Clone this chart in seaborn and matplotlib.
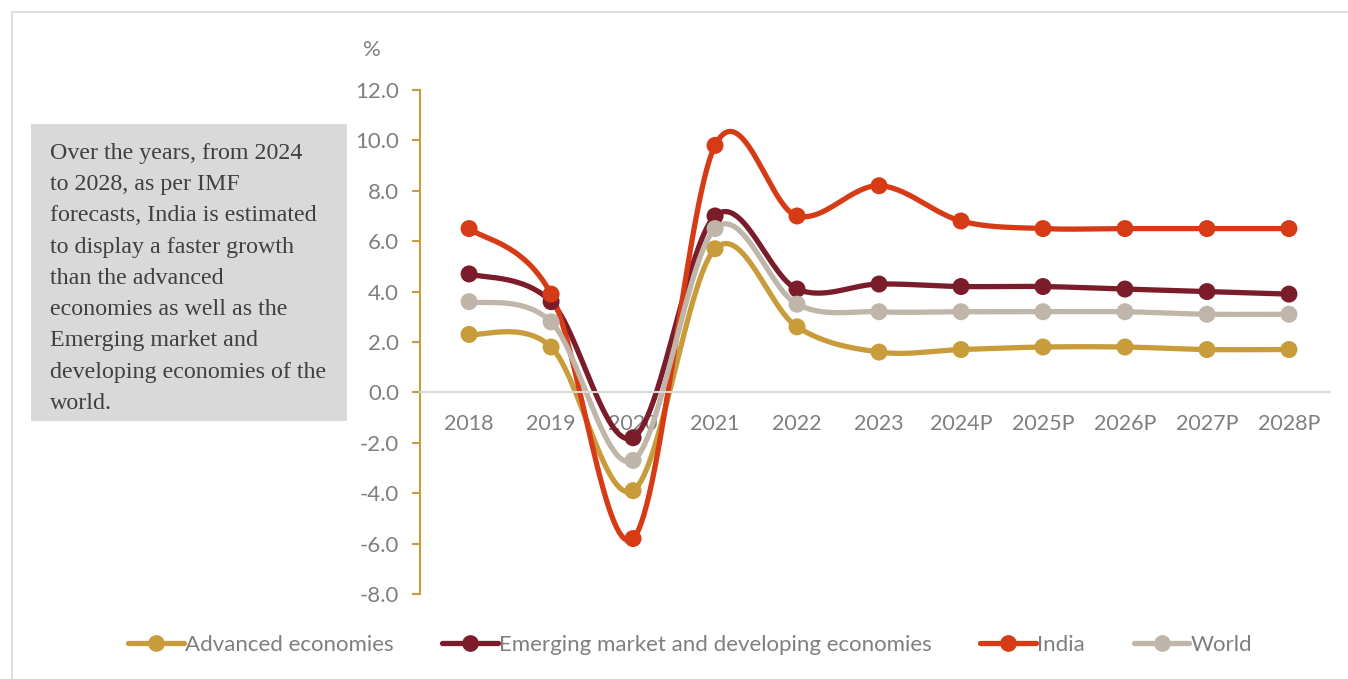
import matplotlib
matplotlib.use("Agg")
import matplotlib.pyplot as plt
import numpy as np
import pandas as pd
import seaborn as sns
from matplotlib.patches import Rectangle
from matplotlib.lines import Line2D

years = ["2018", "2019", "2020", "2021", "2022", "2023",
         "2024P", "2025P", "2026P", "2027P", "2028P"]
advanced = [2.3, 1.8, -3.9, 5.7, 2.6, 1.6, 1.7, 1.8, 1.8, 1.7, 1.7]
emerging = [4.7, 3.6, -1.8, 7.0, 4.1, 4.3, 4.2, 4.2, 4.1, 4.0, 3.9]
india = [6.5, 3.9, -5.8, 9.8, 7.0, 8.2, 6.8, 6.5, 6.5, 6.5, 6.5]
world = [3.6, 2.8, -2.7, 6.5, 3.5, 3.2, 3.2, 3.2, 3.2, 3.1, 3.1]

series = {
    "Advanced economies": (advanced, "#c99c3b"),
    "Emerging market and developing economies": (emerging, "#7a1c2a"),
    "India": (india, "#d63b15"),
    "World": (world, "#bfb5a8"),
}

note = ("Over the years, from 2024\nto 2028, as per IMF\nforecasts, India is estimated\n"
        "to display a faster growth\nthan the advanced\neconomies as well as the\n"
        "Emerging market and\ndeveloping economies of the\nworld.")


def smooth(y, n=30):
    # Excel-style smoothed line: Catmull-Rom through the data points
    y = np.asarray(y, dtype=float)
    x = np.arange(len(y), dtype=float)
    px = np.concatenate([[x[0]], x, [x[-1]]])
    py = np.concatenate([[y[0]], y, [y[-1]]])
    xs, ys = [], []
    for i in range(1, len(px) - 2):
        t = np.linspace(0, 1, n, endpoint=False)
        for arr, out in ((px, xs), (py, ys)):
            p0, p1, p2, p3 = arr[i - 1], arr[i], arr[i + 1], arr[i + 2]
            m1 = (p2 - p0) / 2
            m2 = (p3 - p1) / 2
            h00 = 2 * t**3 - 3 * t**2 + 1
            h10 = t**3 - 2 * t**2 + t
            h01 = -2 * t**3 + 3 * t**2
            h11 = t**3 - t**2
            out.extend(h00 * p1 + h10 * m1 + h01 * p2 + h11 * m2)
    xs.append(x[-1])
    ys.append(y[-1])
    return np.array(xs), np.array(ys)


sns.set_style("white")
plt.rcParams["font.family"] = ["Lato", "DejaVu Sans"]

fig = plt.figure(figsize=(13.48, 6.79), dpi=100)
ax = fig.add_axes([0.3115, 0.1252, 0.6751, 0.7423])

for name, (vals, col) in series.items():
    sx, sy = smooth(vals)
    sns.lineplot(x=sx, y=sy, ax=ax, color=col, lw=3.8, sort=False,
                 estimator=None, solid_capstyle="round")
    sns.scatterplot(x=np.arange(len(vals)), y=vals, ax=ax, color=col,
                    s=150, edgecolor="none", zorder=5)

ax.set_xlim(-0.6, 10.5)
ax.set_ylim(-8, 12)
ax.set_yticks(np.arange(-8, 12.1, 2))
ax.set_yticklabels([f"{v:.1f}" for v in np.arange(-8, 12.1, 2)])
ax.set_xticks(range(len(years)))
ax.set_xticklabels(years)

for s in ["top", "right"]:
    ax.spines[s].set_visible(False)
ax.spines["left"].set_color("#c99c3b")
ax.spines["left"].set_linewidth(1.5)
ax.spines["bottom"].set_position(("data", 0))
ax.spines["bottom"].set_color("#d9d9d9")
ax.spines["bottom"].set_linewidth(1.5)
ax.tick_params(axis="y", left=True, length=6, width=1.5, color="#c99c3b",
               labelsize=16, labelcolor="#7f7f7f", pad=9)
ax.tick_params(axis="x", bottom=False, labelsize=15.5, labelcolor="#7f7f7f", pad=12)
ax.set_xlabel("")
ax.set_ylabel("")

fig.text(372 / 1348, 1 - 50 / 679, "%", fontsize=16, color="#7f7f7f",
         ha="center", va="center")

# note box
fig.patches.append(Rectangle((31 / 1348, 1 - 421 / 679), 316 / 1348, 297 / 679,
                             transform=fig.transFigure, facecolor="#d9d9d9",
                             edgecolor="none", zorder=0))
fig.text(50 / 1348, 1 - 143 / 679, note, fontsize=17.3, color="#404040",
         family=["Liberation Serif", "DejaVu Serif"], va="top", ha="left",
         linespacing=1.64)

# outer frame
fig.add_artist(Line2D([12 / 1348, 12 / 1348], [0, 1 - 12 / 679],
                      transform=fig.transFigure, color="#e0e0e0", lw=1.5))
fig.add_artist(Line2D([12 / 1348, 1], [1 - 12 / 679, 1 - 12 / 679],
                      transform=fig.transFigure, color="#e0e0e0", lw=1.5))

handles = [Line2D([0], [0], color=col, lw=3.8, marker="o", markersize=11)
           for _, (vals, col) in series.items()]
fig.legend(handles, list(series.keys()), loc="center",
           bbox_to_anchor=(690 / 1348, 1 - 645 / 679), ncol=4, frameon=False,
           fontsize=16, labelcolor="#7f7f7f", handlelength=2.5,
           handletextpad=0.05, columnspacing=2.2)

fig.savefig("out.png", dpi=100)
